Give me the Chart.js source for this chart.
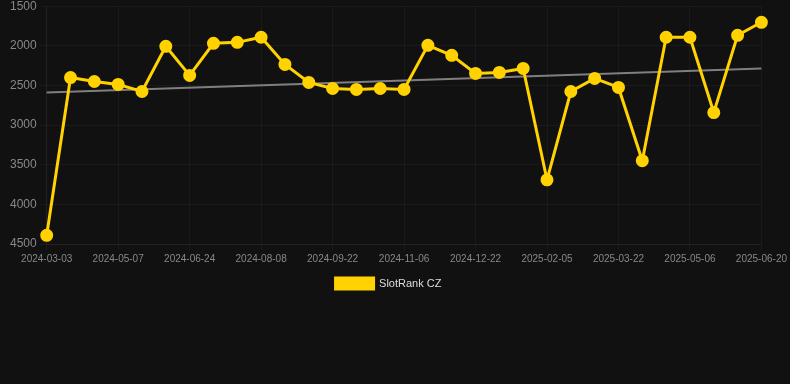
<!DOCTYPE html>
<html>
<head>
<meta charset="utf-8">
<script src="https://cdn.jsdelivr.net/npm/chart.js@4.4.1/dist/chart.umd.min.js"></script>
<style>
  html, body { margin: 0; padding: 0; background: #111111; overflow: hidden; }
  #wrap { width: 790px; height: 303px; margin-top: -4px; }
</style>
</head>
<body>
<div id="wrap"><canvas id="graphCanvas"></canvas></div>
<script>
var dates = [
    '2024-03-03', '2024-03-25', '2024-04-16', '2024-05-07', '2024-05-23', '2024-06-08',
    '2024-06-24', '2024-07-09', '2024-07-24', '2024-08-08', '2024-08-23', '2024-09-07',
    '2024-09-22', '2024-10-07', '2024-10-22', '2024-11-06', '2024-11-21', '2024-12-07',
    '2024-12-22', '2025-01-06', '2025-01-21', '2025-02-05', '2025-02-20', '2025-03-07',
    '2025-03-22', '2025-04-06', '2025-04-21', '2025-05-06', '2025-05-21', '2025-06-05',
    '2025-06-20'
];
var rank = [
    4390, 2400, 2450, 2487, 2576, 2006, 2373, 1968, 1956, 1892, 2234, 2462,
    2538, 2550, 2538, 2550, 1994, 2120, 2348, 2335, 2285, 3690, 2576, 2411,
    2525, 3449, 1892, 1892, 2842, 1867, 1703
];
// trend line end points
var trendStart = 2590;
var trendEnd = 2285;

var trend = [];
for (var i in rank) {
    trend.push(null);
}
trend[0] = trendStart;
trend[trend.length - 1] = trendEnd;

var chartdata = {
    labels: dates,
    datasets: [
        {
            label: 'SlotRank CZ',
            data: rank,
            borderColor: '#ffd200',
            backgroundColor: '#ffd200',
            borderWidth: 3,
            pointRadius: 5,
            pointHoverRadius: 6,
            tension: 0
        },
        {
            label: 'trend',
            data: trend,
            borderColor: 'rgba(140,140,140,0.9)',
            borderWidth: 2,
            pointRadius: 0,
            spanGaps: true,
            fill: false
        }
    ]
};

new Chart(document.getElementById('graphCanvas'), {
    type: 'line',
    data: chartdata,
    options: {
        responsive: true,
        maintainAspectRatio: false,
        animation: false,
        layout: { padding: { left: 7, right: 20, top: 0, bottom: 0 } },
        plugins: {
            legend: {
                position: 'bottom',
                labels: {
                    color: '#dddddd',
                    font: { size: 11, family: 'Liberation Sans, Arial, sans-serif' },
                    boxWidth: 38,
                    boxHeight: 11,
                    filter: function (item) { return item.text !== 'trend'; }
                }
            },
            tooltip: { enabled: false }
        },
        scales: {
            x: {
                grid: { color: 'rgba(255,255,255,0.04)', tickLength: 6 },
                border: { color: 'rgba(255,255,255,0.04)' },
                ticks: {
                    color: '#888888',
                    font: { size: 10, family: 'Liberation Sans, Arial, sans-serif' },
                    autoSkip: false,
                    maxRotation: 0,
                    callback: function (value, index) {
                        return index % 3 === 0 ? this.getLabelForValue(value) : null;
                    }
                }
            },
            y: {
                reverse: true,
                min: 1500,
                max: 4500,
                grid: { color: 'rgba(255,255,255,0.04)', tickLength: 7 },
                border: { color: 'rgba(255,255,255,0.04)' },
                ticks: {
                    color: '#888888',
                    stepSize: 500,
                    font: { size: 12, family: 'Liberation Sans, Arial, sans-serif' },
                    callback: function (value) { return String(value); }
                }
            }
        }
    }
});
</script>
</body>
</html>
